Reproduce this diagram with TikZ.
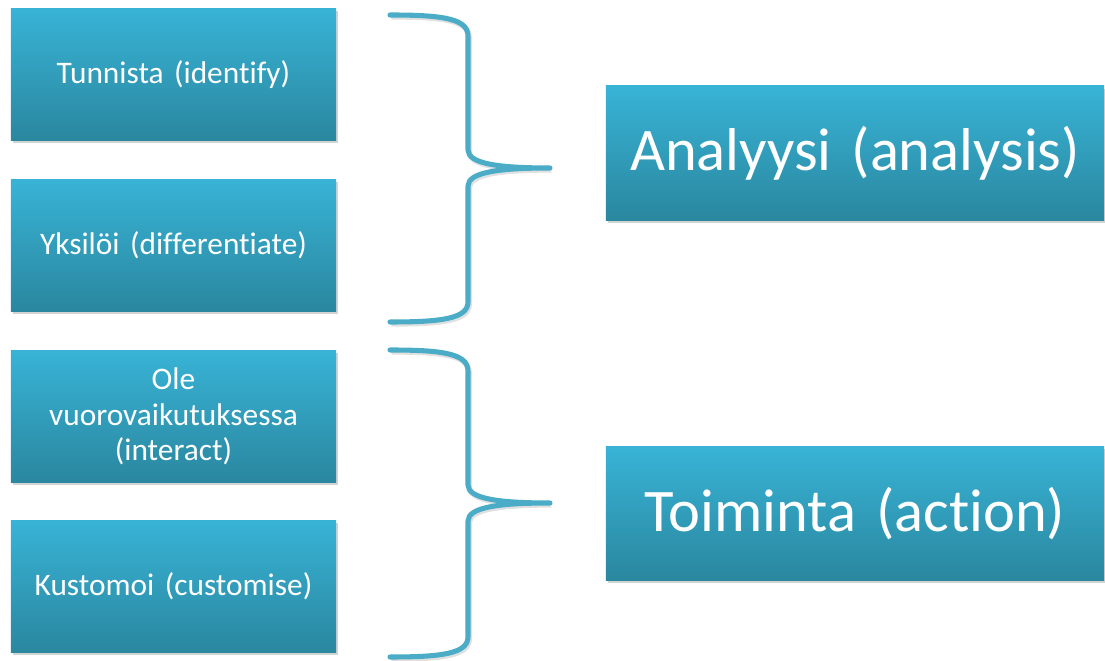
\documentclass[tikz,border=0pt]{standalone}
\usepackage{fontspec}
\setmainfont{Carlito}[Ligatures=NoCommon]
\usetikzlibrary{shadows}

\definecolor{boxtop}{HTML}{38B3D6}
\definecolor{boxbot}{HTML}{2A879F}
\definecolor{bracecol}{HTML}{4AACC6}

\begin{document}
\begin{tikzpicture}[x=0.025cm, y=-0.025cm]
    \tikzstyle{block} = [rectangle, top color=boxtop, bottom color=boxbot, text=white, align=center,
        minimum width=8.125cm, minimum height=3.3cm, inner sep=2pt, text width=7.6cm,
        drop shadow={opacity=0.35, shadow xshift=1.5pt, shadow yshift=-2pt}, font=\fontsize{22.3}{25.2}\selectfont];
    \tikzstyle{bigblock} = [block, minimum width=12.45cm, minimum height=3.35cm, text width=12cm,
        font=\fontsize{43}{50}\selectfont];
    \tikzstyle{brace} = [draw=bracecol, line width=3.6pt, line cap=round, line join=round,
        preaction={draw=black!40, opacity=0.3, line width=3.6pt, transform canvas={xshift=1pt, yshift=-1.5pt}}];
    \useasboundingbox (0,0) rectangle (1105,661);

    \node[block] (identify) at (173.5,74.5) {Tunnista (identify)};
    \node[block] (differ) at (173.5,245.5) {Yksilöi (differentiate)};
    \node[block] (interact) at (173.5,416.5) {Ole\\vuorovaikutuksessa\\(interact)};
    \node[block] (custom) at (173.5,586.5) {Kustomoi (customise)};

    \node[bigblock] (analysis) at (855,153) {Analyysi (analysis)};
    \node[bigblock] (action) at (855,513.5) {Toiminta (action)};

    % braces
    \coordinate (tipA) at (550,168);
    \coordinate (tipB) at (550,503);
    \path[brace] (390,15) .. controls (440,15) and (468,18) .. (468,36) -- (468,150)
        .. controls (468,164) and (500,168) .. (tipA)
        .. controls (500,168) and (468,172) .. (468,186) -- (468,302)
        .. controls (468,319) and (440,322) .. (390,322);
    \path[brace] (390,350) .. controls (440,350) and (468,353) .. (468,371) -- (468,485)
        .. controls (468,499) and (500,503) .. (tipB)
        .. controls (500,503) and (468,507) .. (468,521) -- (468,637)
        .. controls (468,654) and (440,657) .. (390,657);
\end{tikzpicture}
\end{document}
